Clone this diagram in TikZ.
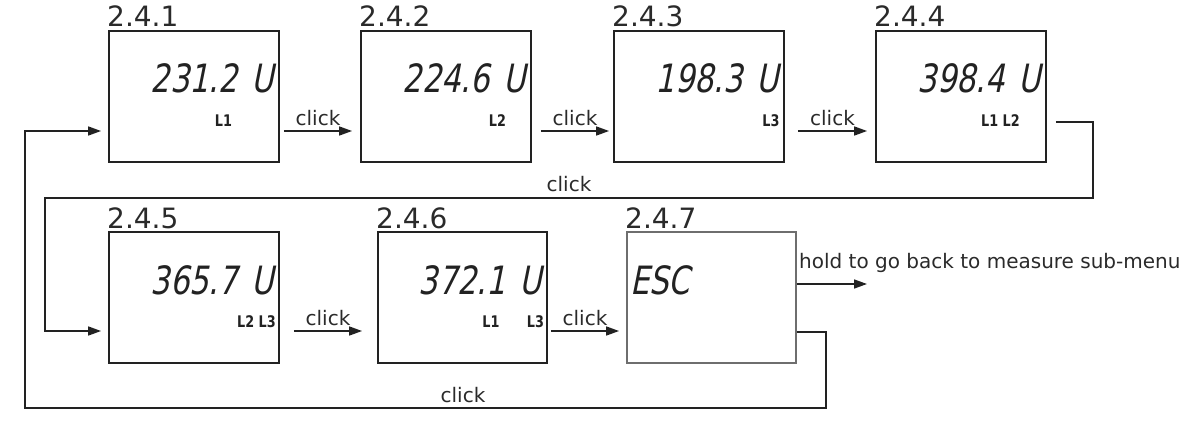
\documentclass[tikz,border=0pt]{standalone}
\usepackage{fontspec}
\setmainfont{DejaVu Sans}
\newfontfamily\lcdfont[FakeSlant=0.2,FakeStretch=0.78]{DejaVu Sans}
\newfontfamily\phfont[FakeStretch=0.8]{DejaVu Sans Bold}
\usetikzlibrary{arrows.meta}
\definecolor{ink}{HTML}{222222}
\definecolor{txt}{HTML}{2A2A2A}
\definecolor{greybox}{HTML}{6E6E6E}
\begin{document}
\begin{tikzpicture}[x=1pt,y=-1pt,
  lcdbox/.style={draw=ink,line width=1.8pt,minimum width=170pt,minimum height=131pt,inner sep=0pt},
  ttl/.style={anchor=base west,font=\fontsize{28}{30}\selectfont,text=txt,inner sep=0pt},
  lcd/.style={anchor=base east,font=\lcdfont\fontsize{39}{42}\selectfont,text=ink,inner sep=0pt},
  phase/.style={anchor=base,font=\phfont\fontsize{16}{18}\selectfont,text=ink,inner sep=0pt},
  lbl/.style={font=\fontsize{20}{22}\selectfont,text=txt,inner sep=0pt},
  arr/.style={draw=ink,line width=1.6pt,-{Triangle[length=13pt,width=9pt]}},
  loopline/.style={draw=ink,line width=1.6pt}]
\useasboundingbox (0,0) rectangle (1194,423);
% boxes
\node[lcdbox] (b1) at (194,96.5) {};
\node[lcdbox] (b2) at (446,96.5) {};
\node[lcdbox] (b3) at (699,96.5) {};
\node[lcdbox] (b4) at (961,96.5) {};
\node[lcdbox] (b5) at (194,297.5) {};
\node[lcdbox,minimum width=169pt] (b6) at (462.5,297.5) {};
\node[lcdbox,minimum width=169pt,draw=greybox] (b7) at (711.5,297.5) {};
% titles
\node[ttl] (t1) at (107,27) {2.4.1};
\node[ttl] (t2) at (359,27) {2.4.2};
\node[ttl] (t3) at (612,27) {2.4.3};
\node[ttl] (t4) at (874,27) {2.4.4};
\node[ttl] (t5) at (107,228) {2.4.5};
\node[ttl] (t6) at (376,228) {2.4.6};
\node[ttl] (t7) at (625,228) {2.4.7};
% LCD readings
\node[lcd] (r1) at (274,92) {231.2\hspace{4pt} U};
\node[lcd] (r2) at (526,92) {224.6\hspace{4pt} U};
\node[lcd] (r3) at (779,92) {198.3\hspace{4pt} U};
\node[lcd] (r4) at (1041,92) {398.4\hspace{4pt} U};
\node[lcd] (r5) at (274,294) {365.7\hspace{4pt} U};
\node[lcd] (r6) at (542,294) {372.1\hspace{4pt} U};
\node[lcd,anchor=base west] (r7) at (630,294) {ESC};
% phases
\node[phase] (p1) at (223.5,126) {L1};
\node[phase] (p2) at (497.5,126) {L2};
\node[phase] (p3) at (771,126) {L3};
\node[phase] (p4) at (1000.5,126) {L1 L2};
\node[phase] (p5) at (256.5,327) {L2 L3};
\node[phase] (p6a) at (491,327) {L1};
\node[phase] (p6b) at (535.5,327) {L3};
% forward arrows
\draw[arr] ([xshift=4pt,yshift=-34.5pt]b1.east) -- node[lbl,above=4pt] (k1) {click} ([xshift=-8pt,yshift=-34.5pt]b2.west);
\draw[arr] ([xshift=9pt,yshift=-34.5pt]b2.east) -- node[lbl,above=4pt] (k2) {click} ([xshift=-4pt,yshift=-34.5pt]b3.west);
\draw[arr] ([xshift=13pt,yshift=-34.5pt]b3.east) -- node[lbl,above=4pt] (k3) {click} ([xshift=-8pt,yshift=-34.5pt]b4.west);
\draw[arr] ([xshift=14pt,yshift=-33.5pt]b5.east) -- node[lbl,above=4pt] (k5) {click} ([xshift=-15pt,yshift=-33.5pt]b6.west);
\draw[arr] ([xshift=3pt,yshift=-33.5pt]b6.east) -- node[lbl,above=4pt] (k6) {click} ([xshift=-7pt,yshift=-33.5pt]b7.west);
% exit arrow
\coordinate (out) at (867,284);
\draw[arr] (b7.east |- out) -- (out);
\node[lbl,anchor=base west] (hold) at (799,268) {hold to go back to measure sub-menu};
% loop 4 -> 5
\coordinate (l4a) at (1093,122);
\coordinate (l4b) at (1093,198);
\coordinate (l4c) at (45,198);
\coordinate (l4d) at (45,331);
\draw[arr] ([xshift=9pt,yshift=-25.5pt]b4.east) -- (l4a) -- (l4b) -- (l4c) -- (l4d) -- ([xshift=-7pt,yshift=-33.5pt]b5.west);
\node[lbl] (k4) at (569,184) {click};
% loop 7 -> 1
\coordinate (l7a) at (826,332);
\coordinate (l7b) at (826,408);
\coordinate (l7c) at (25,408);
\coordinate (l7d) at (25,131);
\draw[arr] ([yshift=-34.5pt]b7.east) -- (l7a) -- (l7b) -- (l7c) -- (l7d) -- ([xshift=-7pt,yshift=-34.5pt]b1.west);
\node[lbl] (k7) at (463,395) {click};
\end{tikzpicture}
\end{document}
